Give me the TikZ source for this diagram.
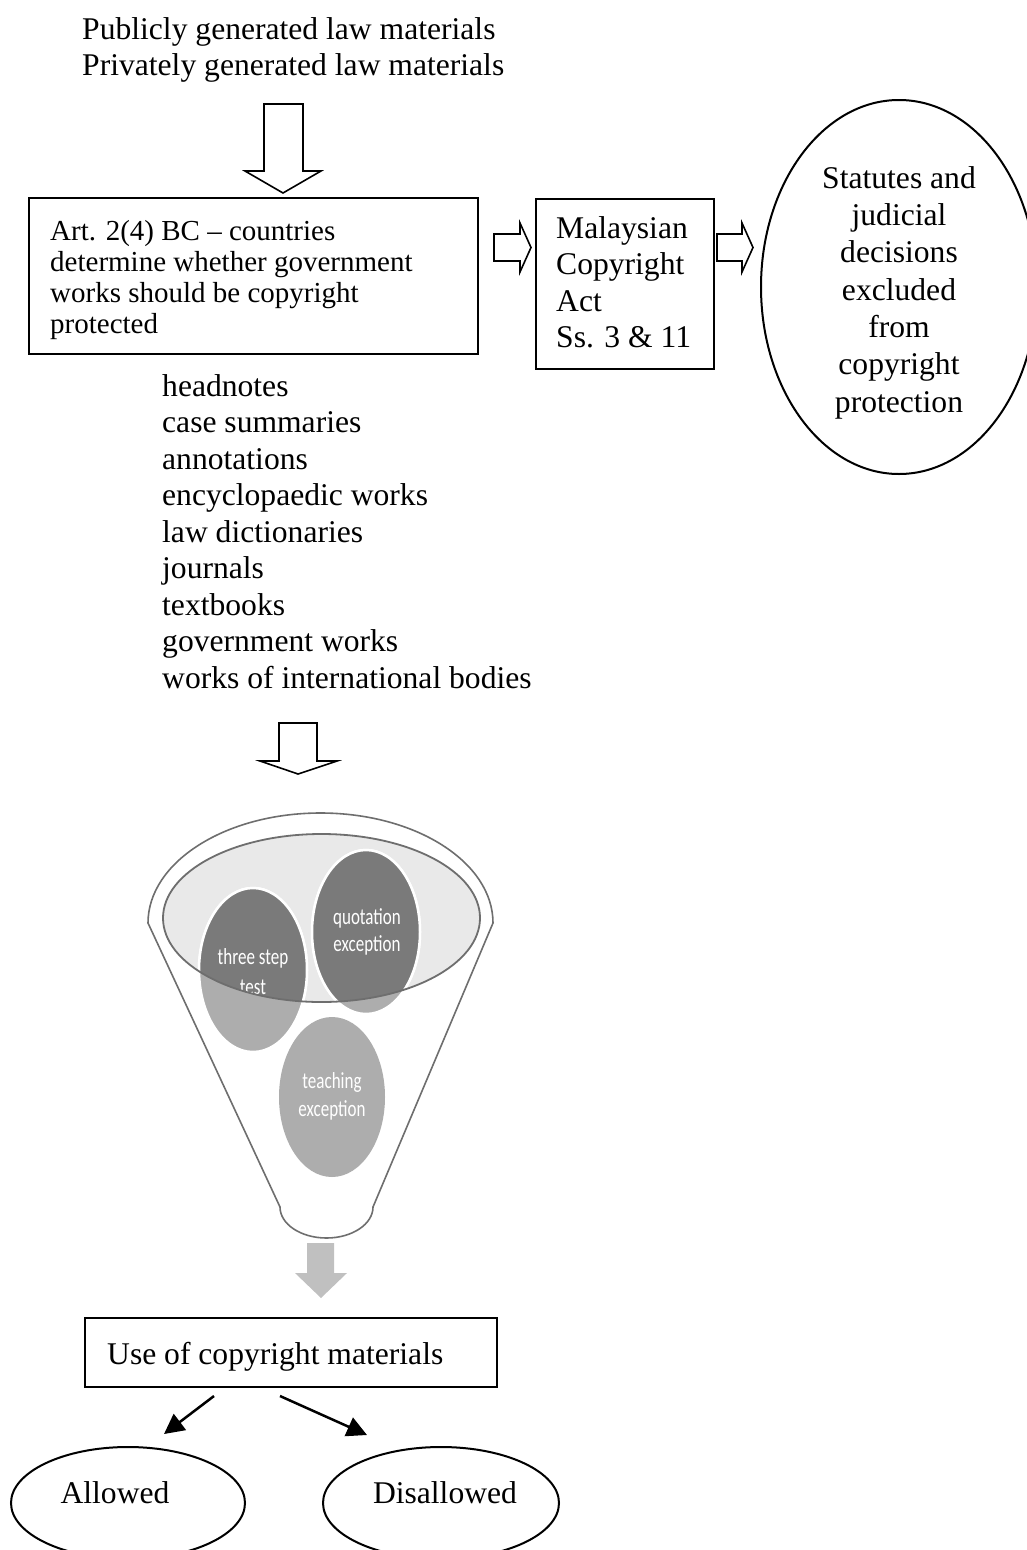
\documentclass[tikz,border=0pt]{standalone}
\usepackage{fontspec}
\setmainfont{Liberation Serif}
\newfontfamily\calfont{Carlito}
\usetikzlibrary{arrows.meta}
\newcommand\bigtxt{\fontsize{31.6}{36.5}\selectfont}
\newcommand\smalltxt{\fontsize{29}{31}\selectfont}
\newcommand\circtxt{\calfont\fontsize{23}{27}\selectfont}
\definecolor{darkc}{HTML}{7A7A7A}
\definecolor{lightc}{HTML}{ADADAD}
\definecolor{rimc}{HTML}{6E6E6E}
\definecolor{innerfill}{HTML}{E9E9E9}
\definecolor{grayarrow}{HTML}{C0C0C0}
\begin{document}
\begin{tikzpicture}[x=1pt,y=-1pt,
  txt/.style={font=\bigtxt, inner sep=0pt, anchor=base west},
  ctxt/.style={font=\bigtxt, inner sep=0pt, anchor=base},
  stxt/.style={font=\smalltxt, inner sep=0pt, anchor=base west},
  wtxt/.style={font=\circtxt, text=white, inner sep=0pt, anchor=center},
  boxed/.style={draw, line width=2pt, inner sep=0pt, anchor=north west},
  blk/.style={draw, line width=1.6pt, fill=white, line join=miter},
  arr/.style={line width=2.5pt, -{Triangle[length=20pt,width=20pt]}}
]
\useasboundingbox (0,0) rectangle (1026,1550);

% top text
\node[txt] (pub) at (82,39) {Publicly generated law materials};
\node[txt] (priv) at (82,75) {Privately generated law materials};

% top hollow arrow
\draw[blk] (264,104) -- (303,104) -- (303,171) -- (321,171) -- (283,193) -- (245,171) -- (264,171) -- cycle;

% box 1
\node[boxed, minimum width=449pt, minimum height=156pt] (art) at (28,197) {};
\node[stxt] (a1) at (50,240) {Art. 2(4) BC -- countries};
\node[stxt] (a2) at (50,271) {determine whether government};
\node[stxt] (a3) at (50,302) {works should be copyright};
\node[stxt] (a4) at (50,333) {protected};

% arrow 1
\draw[blk] (494,234) -- (520,234) -- (520,223) -- (531,247.5) -- (520,272) -- (520,261) -- (494,261) -- cycle;

% box 2
\node[boxed, minimum width=178pt, minimum height=170pt] (mca) at (535,198) {};
\node[txt] (m1) at (556,238) {Malaysian};
\node[txt] (m2) at (556,274.5) {Copyright};
\node[txt] (m3) at (556,311) {Act};
\node[txt] (m4) at (556,347.5) {Ss. 3 \& 11};

% arrow 2
\draw[blk] (717,234) -- (742,234) -- (742,223) -- (753,247.5) -- (742,272) -- (742,261) -- (717,261) -- cycle;

% big ellipse
\draw[line width=2pt] (899,287) ellipse [x radius=138pt, y radius=187pt];
\node[ctxt] (e1) at (899,188) {Statutes and};
\node[ctxt] (e2) at (899,225.3) {judicial};
\node[ctxt] (e3) at (899,262.6) {decisions};
\node[ctxt] (e4) at (899,300) {excluded};
\node[ctxt] (e5) at (899,337.3) {from};
\node[ctxt] (e6) at (899,374.6) {copyright};
\node[ctxt] (e7) at (899,412) {protection};

% list
\node[txt] (l1) at (162,396) {headnotes};
\node[txt] (l2) at (162,432.5) {case summaries};
\node[txt] (l3) at (162,469) {annotations};
\node[txt] (l4) at (162,505.5) {encyclopaedic works};
\node[txt] (l5) at (162,542) {law dictionaries};
\node[txt] (l6) at (162,578.5) {journals};
\node[txt] (l7) at (162,615) {textbooks};
\node[txt] (l8) at (162,651.5) {government works};
\node[txt] (l9) at (162,688) {works of international bodies};

% second hollow arrow
\draw[blk] (279,723) -- (317,723) -- (317,761) -- (337,761) -- (298,774) -- (260,761) -- (279,761) -- cycle;

% funnel
\draw[rimc, line width=1.6pt, fill=white]
  (148,923) arc[start angle=180, end angle=0, x radius=172.5pt, y radius=110pt]
  -- (373,1207) arc[start angle=0, end angle=-180, x radius=46.5pt, y radius=31pt]
  -- cycle;
\fill[innerfill] (321.5,918) ellipse [x radius=158.5pt, y radius=84pt];

% circles (light)
\draw[white, line width=2.5pt, fill=lightc] (253,970) ellipse [x radius=54pt, y radius=82pt];
\draw[white, line width=2.5pt, fill=lightc] (366,932) ellipse [x radius=54pt, y radius=82pt];
\fill[lightc] (332,1097) ellipse [x radius=53pt, y radius=80pt];

% darker part inside the inner ellipse
\begin{scope}
  \clip (321.5,918) ellipse [x radius=158.5pt, y radius=84pt];
  \draw[white, line width=2.5pt, fill=darkc] (253,970) ellipse [x radius=54pt, y radius=82pt];
  \draw[white, line width=2.5pt, fill=darkc] (366,932) ellipse [x radius=54pt, y radius=82pt];
  \node[wtxt] (t1) at (253,958) {\scalebox{0.74}[1]{three step}};
  \node[wtxt] (t2) at (253,987) {\scalebox{0.74}[1]{test}};
\end{scope}
\draw[rimc, line width=1.8pt] (321.5,918) ellipse [x radius=158.5pt, y radius=84pt];

\node[wtxt] (q1) at (367,918) {\scalebox{0.74}[1]{quotation}};
\node[wtxt] (q2) at (367,945) {\scalebox{0.74}[1]{exception}};
\node[wtxt] (te1) at (332,1082) {\scalebox{0.74}[1]{teaching}};
\node[wtxt] (te2) at (332,1110) {\scalebox{0.74}[1]{exception}};

% gray arrow
\fill[grayarrow] (307,1243) -- (334,1243) -- (334,1273) -- (347,1273) -- (321,1298) -- (295,1273) -- (307,1273) -- cycle;

% box 3
\node[boxed, minimum width=412pt, minimum height=69pt] (use) at (84,1317) {};
\node[txt] (u1) at (107,1364) {Use of copyright materials};

% outcome ellipses (cut by the page bottom)
\draw[line width=2pt] (128,1503) ellipse [x radius=117pt, y radius=56pt];
\node[ctxt] (al) at (115,1503) {Allowed};
\draw[line width=2pt] (441,1503) ellipse [x radius=118pt, y radius=56pt];
\node[ctxt] (dis) at (445,1503) {Disallowed};

\coordinate (ls) at (214,1396);
\coordinate (le) at (164,1434);
\coordinate (rs) at (280,1396);
\coordinate (re) at (367,1435);
\draw[arr] (ls) -- (le);
\draw[arr] (rs) -- (re);
\end{tikzpicture}
\end{document}
